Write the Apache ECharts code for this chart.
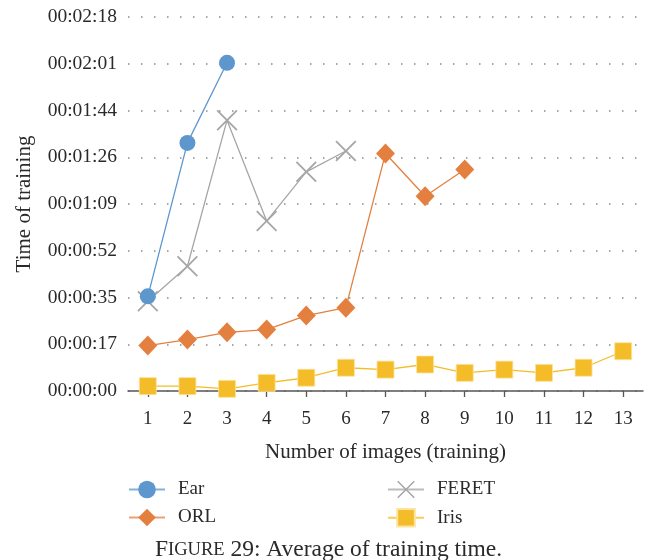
<!DOCTYPE html>
<html>
<head>
<meta charset="utf-8">
<script src="https://cdn.jsdelivr.net/npm/echarts@6/dist/echarts.min.js"></script>
<style>html,body{margin:0;padding:0;background:#fff}#c{width:653px;height:560px}</style>
</head>
<body>
<div id="c"></div>
<script>
// Category labels (number of images used for training)
const categories = ['1','2','3','4','5','6','7','8','9','10','11','12','13'];
// Training times in seconds
const ear   = [35.0, 91.7, 121.3];
const feret = [33.2, 46.1, 100.1, 62.8, 81.0, 88.7];
const orl   = [16.8, 19.0, 21.7, 22.7, 27.9, 30.8, 87.8, 72.0, 81.9];
const iris  = [1.8, 1.8, 0.8, 3.0, 4.9, 8.6, 7.9, 9.8, 6.7, 7.9, 6.7, 8.6, 14.7];
// Y axis: ticks every 17.28 s (0.0002 day)
const yMin = 0, yMax = 138.24, yStep = 17.28;

const FONT = 'Liberation Serif';
const TXT = '#2a2a2a';
const C_EAR = '#5E97CD', C_ORL = '#E4803F', C_FER = '#A6A6A6', C_IRIS = '#F4BC28';
const crossPath = 'path://M0,1.2 L1.2,0 L10,8.8 L18.8,0 L20,1.2 L11.2,10 L20,18.8 L18.8,20 L10,11.2 L1.2,20 L0,18.8 L8.8,10 Z';

function hms(v){
  const s = Math.round(v);
  const p = n => String(n).padStart(2,'0');
  return p(Math.floor(s/3600)) + ':' + p(Math.floor(s%3600/60)) + ':' + p(s%60);
}

const legendCommon = {
  orient: 'vertical', top: 480, padding: 0, itemWidth: 36, itemHeight: 22, itemGap: 9,
  lineStyle: {width: 2, opacity: 0.75},
  textStyle: {fontFamily: FONT, fontSize: 19, color: TXT, padding: [0,0,0,8]}
};

const chart = echarts.init(document.getElementById('c'), null, {renderer:'canvas'});
chart.setOption({
  animation: false,
  backgroundColor: '#fff',
  textStyle: {fontFamily: FONT, color: TXT},
  grid: {left: 128, right: 10, top: 17, bottom: 169, containLabel: false},
  xAxis: {
    type: 'category', data: categories, boundaryGap: true,
    name: 'Number of images (training)', nameLocation: 'middle', nameGap: 51,
    nameTextStyle: {fontFamily: FONT, fontSize: 21, color: TXT},
    axisLine: {show: true, lineStyle: {color: '#555', width: 1.5}},
    axisTick: {show: true, alignWithLabel: true, length: 6, lineStyle: {color: '#555', width: 1.3}},
    axisLabel: {fontFamily: FONT, fontSize: 19, color: TXT, margin: 19},
    splitLine: {show: false}
  },
  yAxis: {
    type: 'value', min: yMin, max: yMax, interval: yStep,
    name: 'Time of training', nameLocation: 'middle', nameGap: 93, nameRotate: 90,
    nameTextStyle: {fontFamily: FONT, fontSize: 21, color: TXT},
    axisLine: {show: false}, axisTick: {show: false},
    axisLabel: {fontFamily: FONT, fontSize: 19.5, color: TXT, margin: 11, formatter: hms},
    splitLine: {show: true, lineStyle: {color: '#8a8a8a', width: 1.5, type: [1.5, 11.5]}}
  },
  legend: [
    Object.assign({data: ['Ear', 'ORL'], left: 128}, legendCommon),
    Object.assign({data: ['FERET', 'Iris'], left: 387}, legendCommon)
  ],
  graphic: [{
    type: 'text', left: 155, top: 538,
    style: {
      text: '{b|F}{s|IGURE}{b| 29: Average of training time.}',
      rich: {
        b: {fontFamily: FONT, fontSize: 23.5, fill: TXT},
        s: {fontFamily: FONT, fontSize: 18.5, fill: TXT}
      }
    }
  }],
  series: [
    {name: 'Ear', type: 'line', data: ear, symbol: 'circle', symbolSize: 16, z: 4,
     lineStyle: {color: C_EAR, width: 1.3}, itemStyle: {color: C_EAR}},
    {name: 'ORL', type: 'line', data: orl, symbol: 'diamond', symbolSize: [19, 20], z: 3,
     lineStyle: {color: C_ORL, width: 1.3}, itemStyle: {color: C_ORL}},
    {name: 'FERET', type: 'line', data: feret, symbol: crossPath, symbolSize: 21, z: 3,
     lineStyle: {color: C_FER, width: 1.3}, itemStyle: {color: C_FER}},
    {name: 'Iris', type: 'line', data: iris, symbol: 'rect', symbolSize: 17, z: 2,
     lineStyle: {color: C_IRIS, width: 1.3}, itemStyle: {color: C_IRIS, borderColor: '#FBE3A0', borderWidth: 0.8}}
  ]
});
</script>
</body>
</html>
